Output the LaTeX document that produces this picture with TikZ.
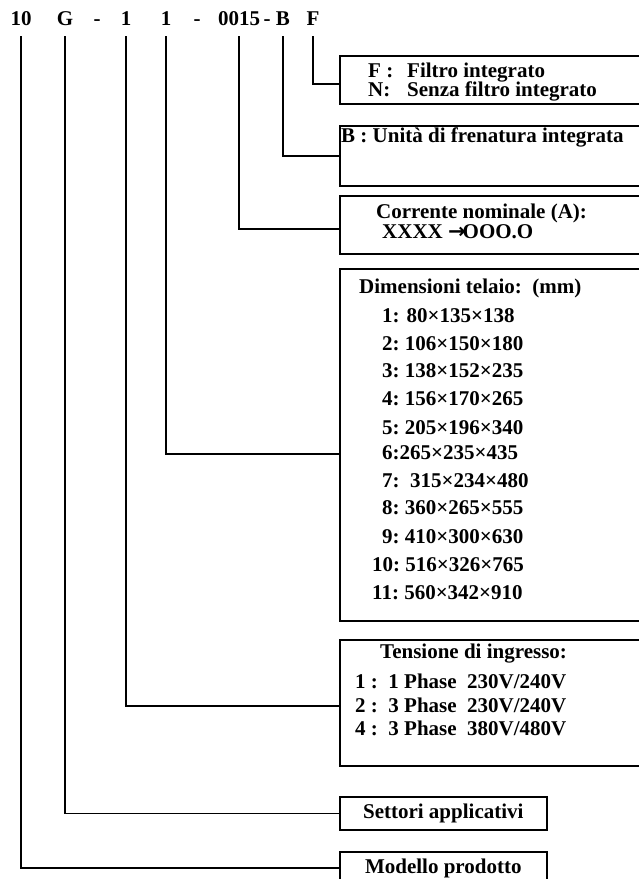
\documentclass[tikz,border=0pt]{standalone}
\usepackage{fontspec}
\setmainfont{Liberation Serif}
\newfontfamily\arrowfont{DejaVu Sans}
\usetikzlibrary{positioning}
\newcommand{\tagfont}{\fontsize{21}{21}\selectfont\bfseries}
\newcommand{\key}[1]{\makebox[39pt][l]{#1}}
\newcommand{\toarrow}{{\arrowfont\bfseries →}\kern-3pt}

\begin{document}
\begin{tikzpicture}[x=1pt,y=-1pt,
  code/.style={font=\tagfont,anchor=base,inner xsep=0pt,inner ysep=11pt},
  txt/.style={font=\tagfont,anchor=base west,inner sep=0pt},
  box/.style={draw,line width=1.6pt,anchor=north west,inner sep=0pt,
              minimum width=400pt,font=\tagfont},
  link/.style={line width=1.6pt}
]
\useasboundingbox (0,0) rectangle (639,879);
\clip (0,0) rectangle (639,879);

% model code
\node[code] (t10)   at (21,25)  {10};
\node[code] (tG)    at (65,25)  {G};
\node[code] (d1)    at (97,25)  {-};
\node[code] (t1a)   at (126,25) {1};
\node[code] (t1b)   at (166,25) {1};
\node[code] (d2)    at (197,25) {-};
\node[code] (t0015) at (239,25) {0015};
\node[code] (d3)    at (267,25) {-};
\node[code] (tB)    at (283,25) {B};
\node[code] (tF)    at (313,25) {F};

% boxes
\node[box,minimum height=48pt]  (filtro)   at (339,55)  {};
\node[box,minimum height=60pt]  (freno)    at (339,125) {};
\node[box,minimum height=58pt]  (corrente) at (339,195) {};
\node[box,minimum height=352pt] (telaio)   at (339,268) {};
\node[box,minimum height=126pt] (tensione) at (339,639) {};
\node[box,minimum height=33pt,minimum width=207pt] (settori) at (339,796) {Settori applicativi};
\node[box,minimum height=34pt,minimum width=207pt] (modello) at (339,851) {Modello prodotto};

% box texts
\node[txt] (f1) at (368,77) {\key{F :}Filtro integrato};
\node[txt] (f2) at (368,96) {\key{N:}Senza filtro integrato};
\node[txt] (b1) at (341,142) {B : Unità di frenatura integrata};
\node[txt] (c1) at (376,218) {Corrente nominale (A):};
\node[txt] (c2) at (382,238) {XXXX \toarrow OOO.O};

\node[txt] (dim)  at (359,293) {Dimensioni telaio:\ \ (mm)};
\node[txt] (r1)   at (382,322) {1: 80×135×138};
\node[txt] (r2)   at (382,350) {2:\ 106×150×180};
\node[txt] (r3)   at (382,377) {3:\ 138×152×235};
\node[txt] (r4)   at (382,405) {4:\ 156×170×265};
\node[txt] (r5)   at (382,434) {5:\ 205×196×340};
\node[txt] (r6)   at (382,459) {6:265×235×435};
\node[txt] (r7)   at (382,487) {7:\ \ 315×234×480};
\node[txt] (r8)   at (382,514) {8:\ 360×265×555};
\node[txt] (r9)   at (382,543) {9:\ 410×300×630};
\node[txt] (r10)  at (372,571) {10:\ 516×326×765};
\node[txt] (r11)  at (372,599) {11:\ 560×342×910};

\node[txt] (v0) at (380,658) {Tensione di ingresso:};
\node[txt] (v1) at (355,688) {1 :\ \ 1 Phase\ \ 230V/240V};
\node[txt] (v2) at (355,712) {2 :\ \ 3 Phase\ \ 230V/240V};
\node[txt] (v3) at (355,735) {4 :\ \ 3 Phase\ \ 380V/480V};

% connectors
\draw[link] (tF) |- ([yshift=-4pt]filtro.west);
\draw[link] (tB) |- (freno.west);
\draw[link] (t0015) |- ([yshift=-4pt]corrente.west);
\draw[link] (t1b) |- ([yshift=-9pt]telaio.west);
\draw[link] (t1a) |- ([yshift=-3pt]tensione.west);
\draw[link] (tG) |- (settori.west);
\draw[link] (t10) |- ([yshift=1pt]modello.west);
\end{tikzpicture}
\end{document}
